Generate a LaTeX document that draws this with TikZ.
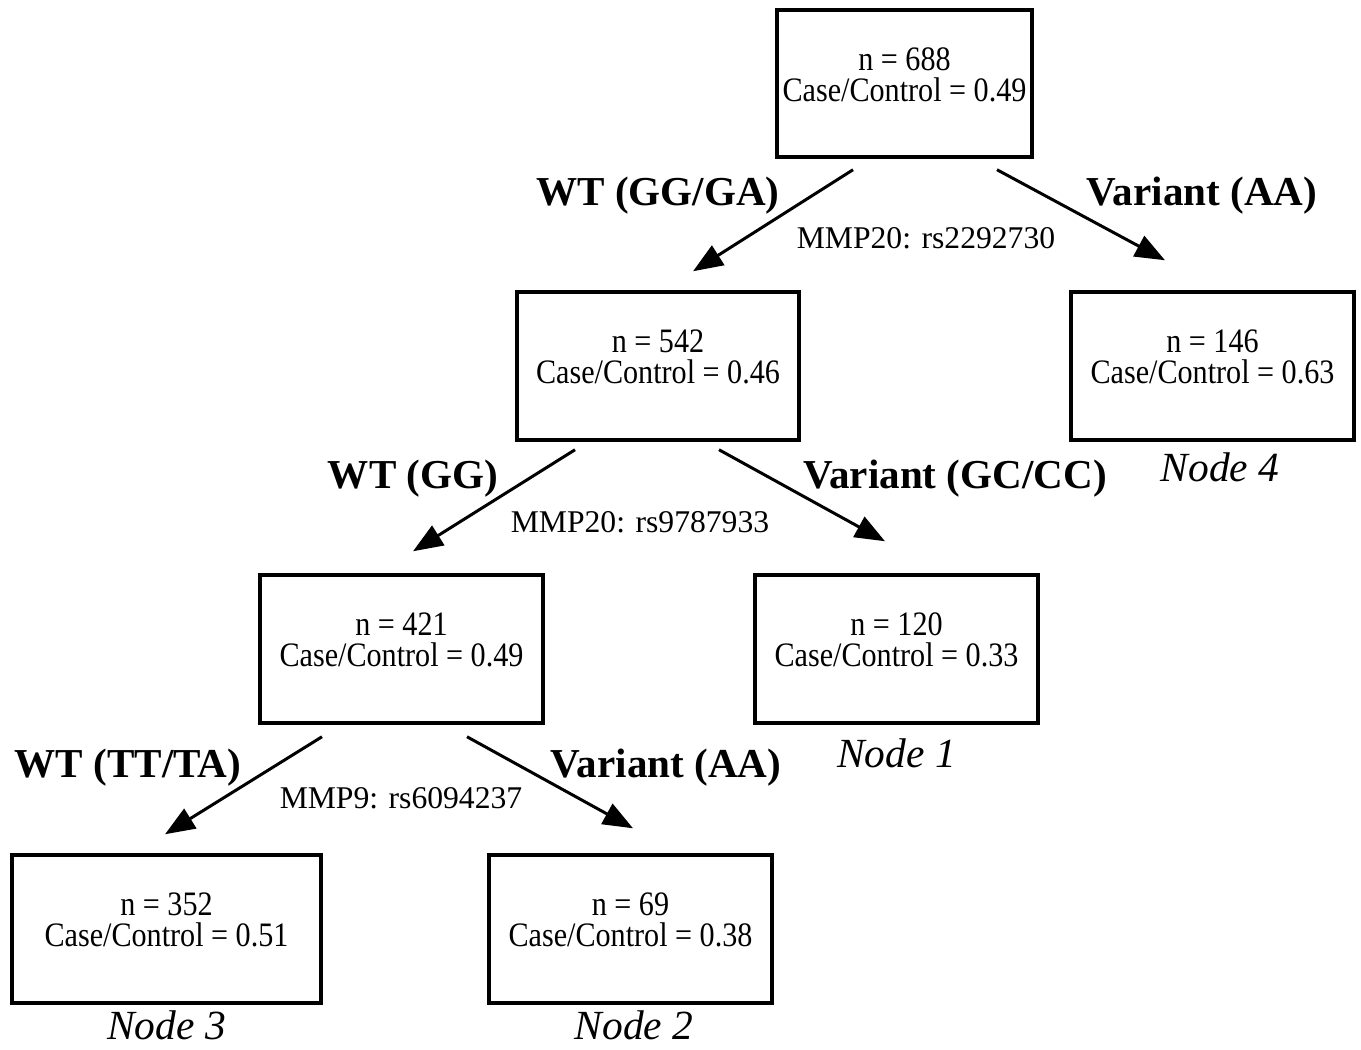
\documentclass[tikz,border=0pt]{standalone}
\usepackage{fontspec}
\setmainfont{Liberation Serif}
\newfontfamily\condserif[FakeStretch=0.88]{Liberation Serif}
\usetikzlibrary{arrows.meta,calc}
\begin{document}
\begin{tikzpicture}[x=0.02cm,y=-0.02cm,
  box/.style={draw,line width=2pt,minimum height=2.96cm,inner sep=0pt},
  txt/.style={align=center,font=\condserif\fontsize{19.5pt}{17.5pt}\selectfont,inner sep=0pt},
  lab/.style={font=\fontsize{18pt}{18pt}\selectfont,inner sep=0pt},
  blab/.style={font=\bfseries\fontsize{23.4pt}{24pt}\selectfont,inner sep=0pt},
  nlab/.style={font=\itshape\fontsize{23.6pt}{24pt}\selectfont,inner sep=0pt},
  arr/.style={line width=1.7pt,-{Triangle[length=17pt,width=13pt]}}]
\useasboundingbox (0,0) rectangle (1361,1049);
% boxes
\node[box,minimum width=5.1cm,minimum height=2.94cm] (r) at (904.5,83.5) {};
\node[box,minimum width=5.64cm] (a) at (658,366) {};
\node[box,minimum width=5.66cm] (b) at (1212.5,366) {};
\node[box,minimum width=5.66cm] (c) at (401.5,649) {};
\node[box,minimum width=5.66cm] (d) at (896.5,649) {};
\node[box,minimum width=6.18cm] (e) at (166.5,929) {};
\node[box,minimum width=5.66cm] (f) at (630.5,929) {};
% box texts
\node[txt] (rt) at ($(r.center)+(0,-8.5)$) {n = 688\\Case/Control = 0.49};
\node[txt] (at) at ($(a.center)+(0,-9)$) {n = 542\\Case/Control = 0.46};
\node[txt] (bt) at ($(b.center)+(0,-9)$) {n = 146\\Case/Control = 0.63};
\node[txt] (ct) at ($(c.center)+(0,-9)$) {n = 421\\Case/Control = 0.49};
\node[txt] (dt) at ($(d.center)+(0,-9)$) {n = 120\\Case/Control = 0.33};
\node[txt] (et) at ($(e.center)+(0,-9)$) {n = 352\\Case/Control = 0.51};
\node[txt] (ft) at ($(f.center)+(0,-9)$) {n = 69\\Case/Control = 0.38};
% node labels
\node[nlab] (n4) at ($(b.south)+(7.5,26)$) {Node 4};
\node[nlab] (n1) at ($(d.south)+(0,29)$) {Node 1};
\node[nlab] (n3) at ($(e.south)+(0,21)$) {Node 3};
\node[nlab] (n2) at ($(f.south)+(3.5,21)$) {Node 2};
% arrows
\draw[arr] ($(r.south)+(-51.5,11)$) -- ($(a.north)+(35,-19)$);
\draw[arr] ($(r.south)+(92.5,11)$) -- ($(b.north)+(-47.5,-30)$);
\draw[arr] ($(a.south)+(-83,8)$) -- ($(c.north)+(11.5,-22)$);
\draw[arr] ($(a.south)+(61,8)$) -- ($(d.north)+(-11.5,-32)$);
\draw[arr] ($(c.south)+(-79.5,12)$) -- ($(e.north)+(-1.5,-19)$);
\draw[arr] ($(c.south)+(65.5,12)$) -- ($(f.north)+(2.5,-25)$);
% branch labels
\node[blab] (l1) at (658,196) {WT (GG/GA)};
\node[blab] (l2) at (1202,196) {Variant (AA)};
\node[lab] (s1) at (926,238) {MMP20: rs2292730};
\node[blab] (l3) at (413,479) {WT (GG)};
\node[blab] (l4) at (955,479) {Variant (GC/CC)};
\node[lab] (s2) at (640,522) {MMP20: rs9787933};
\node[blab] (l5) at (128,768) {WT (TT/TA)};
\node[blab] (l6) at (666,768) {Variant (AA)};
\node[lab] (s3) at (401,798) {MMP9: rs6094237};
\end{tikzpicture}
\end{document}
